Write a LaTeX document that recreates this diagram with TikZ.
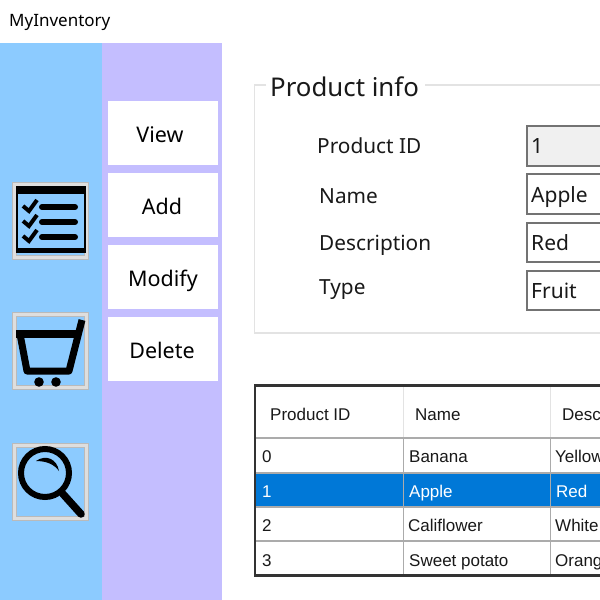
\documentclass[tikz,border=0pt]{standalone}
\usepackage{fontspec}
\setmainfont{Noto Sans}
\newfontfamily\gridfont{Liberation Sans}
\definecolor{sidebar}{HTML}{8CCBFF}
\definecolor{menubar}{HTML}{C4BEFF}
\definecolor{selrow}{HTML}{0078D7}
\definecolor{gridline}{HTML}{ABABAB}
\definecolor{groupline}{HTML}{E3E3E3}
\tikzset{
  menubtn/.style={fill=white,minimum width=110pt,minimum height=64pt,inner sep=0pt,text height=18pt,text depth=0pt,font=\fontsize{21.5}{22}\selectfont},
  iconbtn/.style={fill=sidebar,draw=black!27,line width=1.2pt,double=black!13,double distance=2.6pt},
  fieldlabel/.style={anchor=base west,inner sep=0pt,text=black!90,font=\fontsize{20.8}{21}\selectfont},
  fieldbox/.style={draw=black!55,line width=1.7pt},
  fieldval/.style={anchor=base west,inner sep=0pt,text=black!90,font=\fontsize{21}{21}\selectfont},
  celltext/.style={anchor=base west,inner sep=0pt,text=black!90,font=\gridfont\fontsize{17}{17}\selectfont},
}
\begin{document}
\begin{tikzpicture}[x=1pt,y=-1pt]
\useasboundingbox (0,0) rectangle (600,600);
\clip (0,0) rectangle (600,600);
\fill[white] (0,0) rectangle (600,600);
\node[anchor=base west,inner sep=0pt,font=\fontsize{17}{17}\selectfont] (apptitle) at (9,26) {MyInventory};
% side bars
\fill[sidebar] (0,43) rectangle (102,600);
\fill[menubar] (102,43) rectangle (222,600);
\node[menubtn] (view) at (163,133) {\kern-6pt View};
\node[menubtn] (add) at (163,205) {\kern-2pt Add};
\node[menubtn] (modify) at (163,277) {Modify};
\node[menubtn] (delete) at (163,349) {\kern-2pt Delete};
% icon buttons
\foreach \y in {184.5,314.5,445.5}
  \draw[iconbtn] (14.5,\y) rectangle (86.5,\y+73);
% checklist
\draw[line width=2.5pt] (17,187) rectangle (85,251);
\fill (16,186) rectangle (86,194);
\fill (16,248) rectangle (86,252.5);
\foreach \y in {207,222,237}{
  \draw[line width=6pt,line cap=round] (42,\y) -- (75,\y);
  \draw[line width=4pt] (23,\y-1) -- (29,\y+4) -- (37,\y-7);
}
% cart
\draw[line width=7.5pt,line join=round] (16,334) -- (78,334);
\draw[line width=7pt,line join=round] (20,334) -- (27,371) -- (69,371) -- (82,320);
\fill (39,382) circle (4.8);
\fill (56,382) circle (4.8);
% magnifier
\draw[line width=6pt] (45,473) circle (24);
\draw[line width=7.5pt,line cap=round] (63,494) -- (81,514);
\fill (36,461) .. controls (46,454) and (57,459) .. (59,471) .. controls (54,464) and (46,461) .. (36,461) -- cycle;
% product info group
\draw[groupline,line width=1.5pt] (266,85) -- (254.5,85) -- (254.5,333) -- (600,333);
\draw[groupline,line width=1.5pt] (425,85) -- (600,85);
\node[anchor=base west,inner sep=0pt,text=black!90,font=\fontsize{25.8}{26}\selectfont] (grouptitle) at (270,96) {Product info};
\node[fieldlabel] (idlabel) at (317,153) {Product ID};
\node[fieldlabel] (namelabel) at (319,203) {Name};
\node[fieldlabel] (desclabel) at (319,250) {Description};
\node[fieldlabel] (typelabel) at (319,294) {Type};
\draw[fieldbox,fill=black!6] (527,126) rectangle (610,166);
\draw[fieldbox] (527,174) rectangle (610,214);
\draw[fieldbox] (527,223) rectangle (610,262);
\draw[fieldbox] (527,271) rectangle (610,310);
\node[fieldval] (idval) at (531,153) {1};
\node[fieldval] (nameval) at (531,202) {Apple};
\node[fieldval] (descval) at (531,250) {Red};
\node[fieldval] (typeval) at (531,298) {Fruit};
% product table
\fill[selrow] (255,473) rectangle (600,507);
\draw[groupline,line width=1pt] (403.5,386) -- (403.5,438);
\draw[groupline,line width=1pt] (550.5,386) -- (550.5,438);
\foreach \y in {438,473,507,541}
  \draw[gridline,line width=1.5pt] (255,\y) -- (600,\y);
\draw[gridline,line width=1.5pt] (403.5,438) -- (403.5,576);
\draw[gridline,line width=1.5pt] (550.5,438) -- (550.5,576);
\draw[black!80,line width=2.2pt] (610,385.5) -- (255,385.5) -- (255,575.5) -- (610,575.5);
\node[celltext] (headid) at (270,420) {Product ID};
\node[celltext] (headname) at (415,420) {Name};
\node[celltext] (headdesc) at (562,420) {Desc};
\node[celltext] (id0) at (262,462) {0};
\node[celltext] (name0) at (409,462) {Banana};
\node[celltext] (desc0) at (555,462) {Yellow};
\node[celltext,text=white] (id1) at (262,497) {1};
\node[celltext,text=white] (name1) at (409,497) {Apple};
\node[celltext,text=white] (desc1) at (556,497) {Red};
\node[celltext] (id2) at (262,531) {2};
\node[celltext] (name2) at (408,531) {Califlower};
\node[celltext] (desc2) at (555,531) {White};
\node[celltext] (id3) at (262,566) {3};
\node[celltext] (name3) at (409,566) {Sweet potato};
\node[celltext] (desc3) at (555,566) {Orang};
\end{tikzpicture}
\end{document}
